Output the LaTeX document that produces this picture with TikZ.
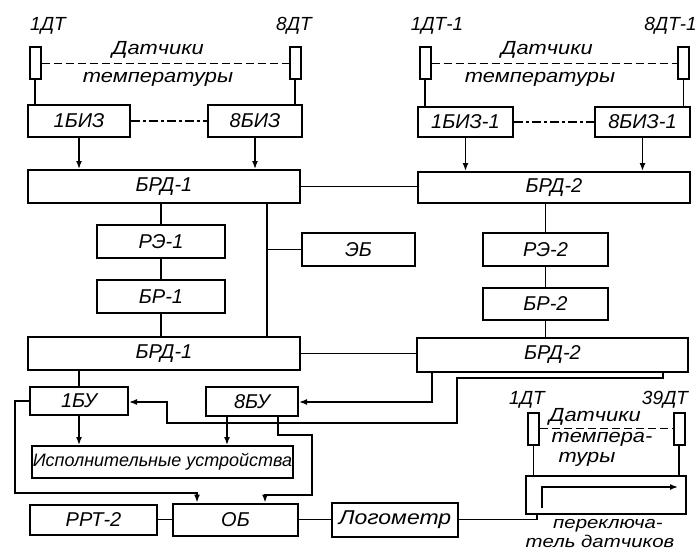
\documentclass[tikz,border=0pt]{standalone}
\usepackage{graphicx}
\usepackage{fontspec}
\setmainfont{Liberation Sans}
\usetikzlibrary{arrows.meta,calc}
\newcommand{\widetxt}[2][1.15]{\scalebox{#1}[1]{#2}}
\begin{document}
\begin{tikzpicture}[x=1pt,y=-1pt,
  every node/.style={font=\itshape\fontsize{20}{22}\selectfont},
  box/.style={draw, line width=2pt, inner sep=0pt},
  sens/.style={draw, line width=2pt, inner sep=0pt, minimum width=11pt, minimum height=32pt},
  lbl/.style={inner sep=0pt, font=\itshape\fontsize{19}{21}\selectfont},
  conn/.style={line width=1.5pt},
  arr/.style={conn, -{Latex[length=8pt,width=6pt]}},
  dsh/.style={conn, dash pattern=on 8pt off 4pt},
  dd/.style={conn, dash pattern=on 9pt off 3pt on 3pt off 3pt}]
\useasboundingbox[fill=white] (0,0) rectangle (697,551);

% ---- sensors top left
\node[sens] (s1) at (35,63.5) {};
\node[sens] (s8) at (295,63.5) {};
\node[lbl] (l1) at (48,26) {1ДТ};
\node[lbl] (l8) at (294,26) {8ДТ};
\node[lbl] (d1a) at (158,50) {\widetxt{Датчики}};
\node[lbl] (d1b) at (158,79) {\widetxt{температуры}};
\draw[dsh] (s1.east) -- (s8.west);

% ---- sensors top right
\node[sens] (s1b) at (425,63.5) {};
\node[sens] (s8b) at (683.5,63.5) {};
\node[lbl] (l1b) at (437,26) {1ДТ-1};
\node[lbl,anchor=east] (l8b) at (697,26) {8ДТ-1};
\node[lbl] (d2a) at (547,50) {\widetxt{Датчики}};
\node[lbl] (d2b) at (540,79) {\widetxt{температуры}};
\draw[dsh] (s1b.east) -- (s8b.west);

% ---- boxes
\node[box, minimum width=102pt, minimum height=32pt] (bizA) at (79,121) {1БИЗ};
\node[box, minimum width=94pt, minimum height=32pt] (bizB) at (255,121) {8БИЗ};
\node[box, minimum width=95pt, minimum height=30pt] (bizC) at (465.5,122) {1БИЗ-1};
\node[box, minimum width=95pt, minimum height=30pt] (bizD) at (642.5,122) {8БИЗ-1};
\node[box, minimum width=272pt, minimum height=33pt] (brd1) at (164,186.5) {БРД-1};
\node[box, minimum width=272pt, minimum height=31pt] (brd2) at (554,187.5) {БРД-2};
\node[box, minimum width=128pt, minimum height=33pt] (re1) at (161,241.5) {РЭ-1};
\node[box, minimum width=128pt, minimum height=33pt] (br1) at (161,296.5) {БР-1};
\node[box, minimum width=113pt, minimum height=33pt] (eb) at (358.5,249.5) {ЭБ};
\node[box, minimum width=125pt, minimum height=33pt] (re2) at (545.5,249.5) {РЭ-2};
\node[box, minimum width=125pt, minimum height=32pt] (br2) at (545.5,304) {БР-2};
\node[box, minimum width=272pt, minimum height=33pt] (brd1b) at (164,353.5) {БРД-1};
\node[box, minimum width=271pt, minimum height=34pt] (brd2b) at (552.5,355) {БРД-2};
\node[box, minimum width=98pt, minimum height=28pt] (bu1) at (79,401) {1БУ};
\node[box, minimum width=92pt, minimum height=29pt] (bu8) at (252,401.5) {8БУ};
\node[box, minimum width=261pt, minimum height=32pt, font=\itshape\fontsize{18}{20}\selectfont] (isp) at (162.5,462) {Исполнительные устройства};
\node[box, minimum width=127pt, minimum height=30pt] (rrt) at (93.5,519.5) {РРТ-2};
\node[box, minimum width=125pt, minimum height=32pt] (ob) at (235.5,519.5) {ОБ};
\node[box, minimum width=126pt, minimum height=34pt] (log) at (395,519.5) {\widetxt{Логометр}};
\node[box, minimum width=160pt, minimum height=38pt] (sw) at (606,495) {};

% ---- bottom right sensors
\node[sens] (s1c) at (533.5,428.5) {};
\node[sens] (s39) at (679,428.5) {};
\node[lbl] (l1c) at (527,400) {1ДТ};
\node[lbl] (l39) at (665,400) {39ДТ};
\node[lbl] (d3a) at (595,417) {\widetxt{Датчики}};
\node[lbl] (d3b) at (602,439) {\widetxt{темпера-}};
\node[lbl] (d3c) at (587,459) {\widetxt{туры}};
\node[lbl, font=\itshape\fontsize{17}{19}\selectfont] (p1) at (608,526) {\widetxt[1.2]{переключа-}};
\node[lbl, font=\itshape\fontsize{17}{19}\selectfont] (p2) at (600,541) {\widetxt[1.2]{тель датчиков}};
\draw[dsh] (s1c.east) -- (s39.west);

% ---- connectors top
\draw[conn] (s1.south) -- (s1.south |- bizA.north);
\draw[conn] (s8.south) -- (s8.south |- bizB.north);
\draw[conn] (s1b.south) -- (s1b.south |- bizC.north);
\draw[conn] (s8b.south) -- (s8b.south |- bizD.north);
\draw[dd] (bizA.east) -- (bizB.west);
\draw[dd] (bizC.east) -- (bizD.west);
\draw[arr] (bizA.south) -- (bizA.south |- brd1.north);
\draw[arr] (bizB.south) -- (bizB.south |- brd1.north);
\draw[arr] (bizC.south) -- (bizC.south |- brd2.north);
\draw[arr] (bizD.south) -- (bizD.south |- brd2.north);
\draw[conn] (brd1.east) -- (brd1.east -| brd2.west);

% ---- middle
\draw[conn] (re1.north |- brd1.south) -- (re1.north);
\draw[conn] (re1.south) -- (br1.north);
\draw[conn] (br1.south) -- (br1.south |- brd1b.north);
\coordinate (ebj) at (267,249.5);
\draw[conn] (ebj |- brd1.south) -- (ebj |- brd1b.north);
\draw[conn] (ebj) -- (ebj -| eb.west);
\draw[conn] (re2.north |- brd2.south) -- (re2.north);
\draw[conn] (re2.south) -- (br2.north);
\draw[conn] (br2.south) -- (br2.south |- brd2b.north);
\draw[conn] (brd1b.east) -- (brd1b.east -| brd2b.west);

% ---- lower
\draw[conn] (bu1.north |- brd1b.south) -- (bu1.north);
\coordinate (a1) at (432,402);
\draw[arr] (a1 |- brd2b.south) -- (a1) -- (a1 -| bu8.east);
\coordinate (b0) at (663,378);
\coordinate (b5) at (167,402);
\draw[arr] (b0 |- brd2b.south) -- (b0) -- (457,378) -- (457,423) -- (167,423) -- (b5) -- (b5 -| bu1.east);
\draw[arr] (bu1.south) -- (bu1.south |- isp.north);
\coordinate (c1) at (227,430);
\draw[arr] (c1 |- bu8.south) -- (c1 |- isp.north);
\coordinate (dd1) at (278,435);
\coordinate (dd2) at (265,495);
\draw[arr] (dd1 |- bu8.south) -- (dd1) -- (312,435) -- (312,495) -- (dd2) -- (dd2 |- ob.north);
\coordinate (e1) at (15,401);
\coordinate (e2) at (197,493);
\draw[arr] (bu1.west) -- (e1) -- (15,493) -- (e2) -- (e2 |- ob.north);
\draw[conn] (rrt.east) -- (rrt.east -| ob.west);
\draw[conn] (ob.east) -- (ob.east -| log.west);
\coordinate (f1) at (537,521);
\draw[conn] (log.east) -- (log.east -| f1) -- (f1 |- sw.south);
\draw[conn] (s1c.south) -- (s1c.south |- sw.north);
\draw[conn] (s39.south) -- (s39.south |- sw.north);
\draw[arr] (542,508) -- (542,487) -- (678,487);
\end{tikzpicture}
\end{document}
